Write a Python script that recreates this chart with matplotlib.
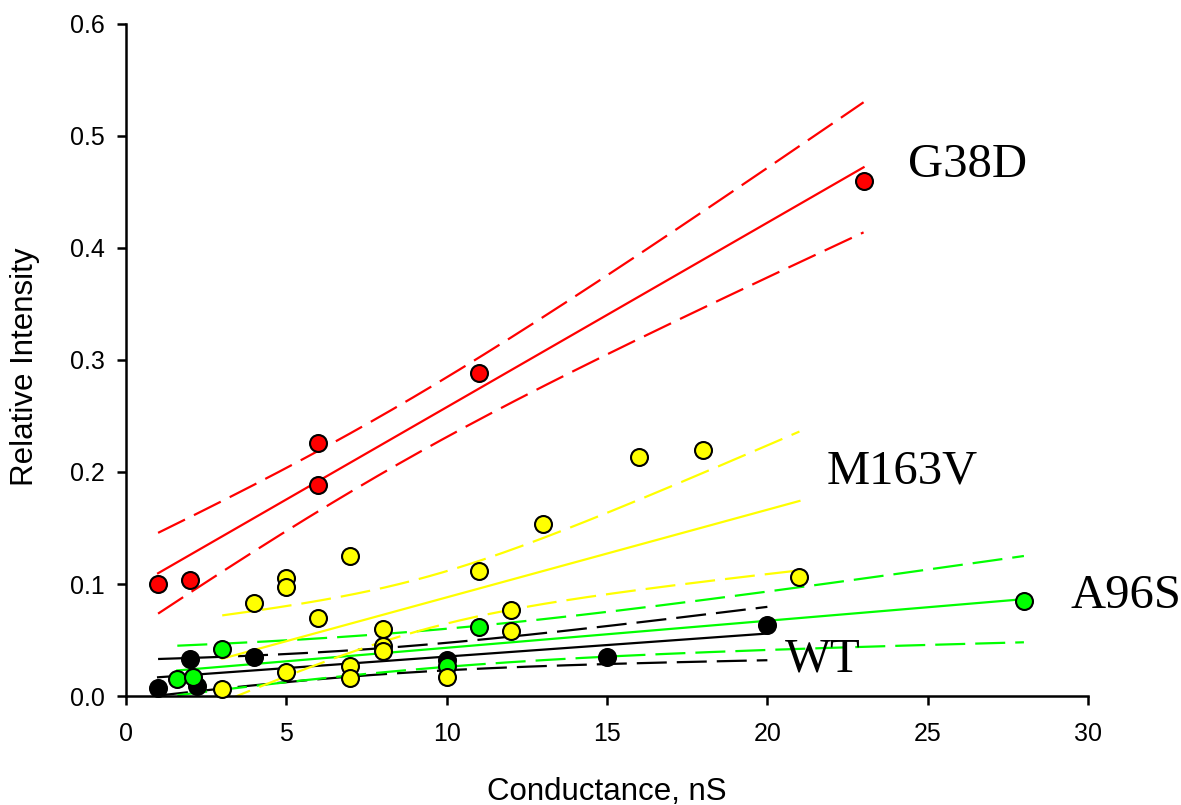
import numpy as np
import matplotlib
matplotlib.use("Agg")
import matplotlib.pyplot as plt
from math import gamma, sqrt, pi

# data
red_x = [1, 2, 6, 6, 11, 23]
red_y = [0.100, 0.104, 0.188, 0.226, 0.288, 0.460]

yel_x = [3, 4, 5, 5, 5, 6, 7, 7, 7, 8, 8, 8, 10, 11, 12, 12, 13, 16, 18, 21]
yel_y = [0.006, 0.083, 0.105, 0.097, 0.021, 0.070, 0.125, 0.027, 0.016, 0.060,
         0.045, 0.040, 0.017, 0.112, 0.077, 0.058, 0.154, 0.213, 0.220, 0.106]

grn_x = [1.6, 2.1, 3, 10, 11, 28]
grn_y = [0.015, 0.017, 0.042, 0.027, 0.062, 0.085]

blk_x = [1, 2, 2.2, 4, 10, 15, 20]
blk_y = [0.007, 0.033, 0.009, 0.035, 0.032, 0.035, 0.063]

names = ["WT", "A96S", "M163V", "G38D"]
label_x = [20.55, 29.45, 21.85, 24.4]
label_y = [0.0215, 0.0785, 0.190, 0.463]

groups = [
    (blk_x, blk_y, "black"),
    (grn_x, grn_y, "#00ff00"),
    (yel_x, yel_y, "#ffff00"),
    (red_x, red_y, "#ff0000"),
]


# t-quantile for the 95 % band, no scipy here
def t_crit(dof, p=0.975):
    xs = np.linspace(0, 30, 30001)
    c = gamma((dof + 1) / 2) / (sqrt(dof * pi) * gamma(dof / 2))
    pdf = c * (1 + xs ** 2 / dof) ** (-(dof + 1) / 2)
    cdf = 0.5 + np.concatenate([[0], np.cumsum((pdf[1:] + pdf[:-1]) / 2 * np.diff(xs))])
    return np.interp(p, cdf, xs)


def fit_band(x, y):
    x = np.array(x, dtype=float)
    y = np.array(y, dtype=float)
    n = len(x)
    b, a = np.polyfit(x, y, 1)
    res = y - (a + b * x)
    s = np.sqrt(np.sum(res ** 2) / (n - 2))
    sxx = np.sum((x - x.mean()) ** 2)
    xs = np.linspace(x.min(), x.max(), 200)
    yh = a + b * xs
    half = t_crit(n - 2) * s * np.sqrt(1 / n + (xs - x.mean()) ** 2 / sxx)
    return xs, yh, yh - half, yh + half


plt.rcParams["font.family"] = ["Liberation Sans", "DejaVu Sans"]

fig = plt.figure(figsize=(11.81, 8.05), dpi=100)
ax = fig.add_axes([0.1067, 0.1354, 0.8146, 0.8348])

dash = (0, (13.5, 4.5))
for x, y, col in groups:
    xs, yh, lo, hi = fit_band(x, y)
    ax.plot(xs, yh, color=col, lw=1.6)
    ax.plot(xs, lo, color=col, lw=1.6, linestyle=dash)
    ax.plot(xs, hi, color=col, lw=1.6, linestyle=dash)

for x, y, col in groups:
    ax.plot(x, y, "o", ms=12.2, mfc=col, mec="black", mew=1.5, clip_on=False, zorder=3)

for name, lx, ly in zip(names, label_x, label_y):
    ax.text(lx, ly, name, fontsize=35, family="Liberation Serif",
            ha="left", va="baseline", clip_on=False)

ax.set_xlim(0, 30)
ax.set_ylim(0, 0.6)
ax.set_xticks(np.arange(0, 31, 5))
ax.set_yticks(np.arange(0, 0.61, 0.1))
ax.set_yticklabels([f"{v:.1f}" for v in np.arange(0, 0.61, 0.1)])

for side in ["top", "right"]:
    ax.spines[side].set_visible(False)
for side in ["left", "bottom"]:
    ax.spines[side].set_linewidth(1.8)

ax.tick_params(direction="out", length=6.5, width=1.8, labelsize=18)
ax.tick_params(axis="x", pad=12)
ax.tick_params(axis="y", pad=9)

ax.set_xlabel("Conductance, nS", fontsize=22.5)
ax.set_ylabel("Relative Intensity", fontsize=22.5)
ax.xaxis.set_label_coords(0.5, -0.155)
ax.xaxis.label.set_va("baseline")
ax.yaxis.set_label_coords(-0.1055, 0.49)
ax.yaxis.label.set_va("center")

fig.savefig("out.png", dpi=100)
